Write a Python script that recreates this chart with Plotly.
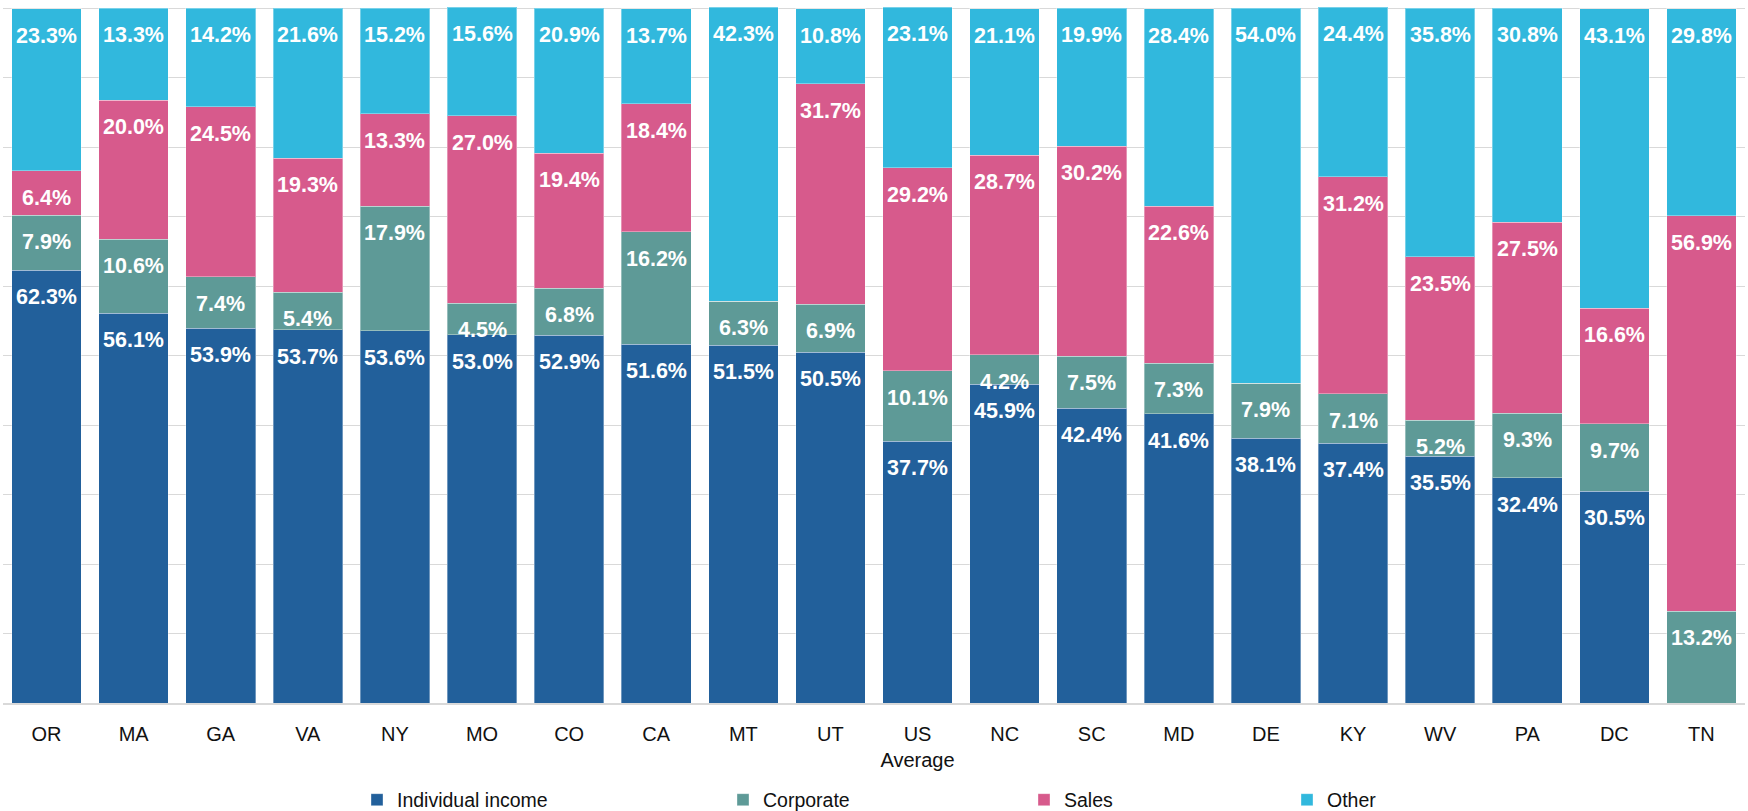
import plotly.graph_objects as go

states = ["OR", "MA", "GA", "VA", "NY", "MO", "CO", "CA", "MT", "UT",
          "US<br>Average", "NC", "SC", "MD", "DE", "KY", "WV", "PA", "DC", "TN"]
individual = [62.3, 56.1, 53.9, 53.7, 53.6, 53.0, 52.9, 51.6, 51.5, 50.5,
              37.7, 45.9, 42.4, 41.6, 38.1, 37.4, 35.5, 32.4, 30.5, 0.0]
corporate = [7.9, 10.6, 7.4, 5.4, 17.9, 4.5, 6.8, 16.2, 6.3, 6.9,
             10.1, 4.2, 7.5, 7.3, 7.9, 7.1, 5.2, 9.3, 9.7, 13.2]
sales = [6.4, 20.0, 24.5, 19.3, 13.3, 27.0, 19.4, 18.4, 0.0, 31.7,
         29.2, 28.7, 30.2, 22.6, 0.0, 31.2, 23.5, 27.5, 16.6, 56.9]
other = [23.3, 13.3, 14.2, 21.6, 15.2, 15.6, 20.9, 13.7, 42.3, 10.8,
         23.1, 21.1, 19.9, 28.4, 54.0, 24.4, 35.8, 30.8, 43.1, 29.8]

series_names = ["Individual income", "Corporate", "Sales", "Other"]
series_values = [individual, corporate, sales, other]
series_colors = ["#22609B", "#5E9A97", "#D75A8C", "#31B8DD"]

FONT = "Liberation Sans Narrow, Arial Narrow, Liberation Sans, Arial, sans-serif"

fig = go.Figure()
legend_ids = ["legend", "legend2", "legend3", "legend4"]
for name, vals, col, lg in zip(series_names, series_values, series_colors, legend_ids):
    fig.add_trace(go.Bar(
        x=states, y=vals, name=name, legend=lg,
        marker=dict(color=col, line=dict(color="rgba(255,255,255,0.35)", width=1)),
        hoverinfo="x+y+name",
    ))

# data labels at the top of each segment
annotations = []
for i, st in enumerate(states):
    cum = 0.0
    for vals in series_values:
        v = vals[i]
        cum += v
        if v > 0:
            annotations.append(dict(
                x=st, y=cum, xref="x", yref="y", text=f"{v:.1f}%",
                showarrow=False, yanchor="top", yshift=-13,
                font=dict(family=FONT, size=21.5, color="white", weight="bold"),
            ))

W, H = 1748, 811
legend_x_px = [371, 737, 1038, 1301]
legend_layout = {}
for lg, px in zip(legend_ids, legend_x_px):
    legend_layout[lg] = dict(
        x=(px - 14) / W, xref="container", xanchor="left",
        y=1 - 800 / H, yref="container", yanchor="middle", orientation="h",
        font=dict(family=FONT, size=19.5, color="#111111"),
        bgcolor="rgba(0,0,0,0)", itemwidth=30,
    )

fig.update_layout(
    width=W, height=H,
    margin=dict(l=3, r=3, t=7, b=108, autoexpand=False),
    barmode="stack", bargap=0.2,
    plot_bgcolor="white", paper_bgcolor="white",
    showlegend=True,
    annotations=annotations,
    font=dict(family=FONT, color="#111111"),
    xaxis=dict(
        tickfont=dict(family=FONT, size=20, color="#111111"),
        showline=True, linecolor="#D9D9D9", linewidth=2,
        ticks="", ticklabelstandoff=12, showgrid=False, automargin=False,
    ),
    yaxis=dict(
        range=[0, 100.15], dtick=10, showticklabels=False,
        showgrid=True, gridcolor="#D9D9D9", gridwidth=1,
        zeroline=False, showline=False, ticks="", automargin=False,
    ),
    **legend_layout,
)

fig.write_html("out.html",
               config={"displayModeBar": False},
               post_script="document.body.style.margin='0';document.body.style.overflow='hidden';")
